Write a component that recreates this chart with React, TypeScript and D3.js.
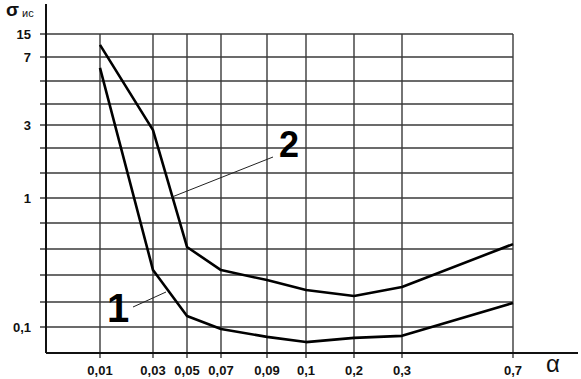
import React from 'react';
import * as d3 from 'd3';

// alpha values on the x axis
const alphas = [0.01, 0.03, 0.05, 0.07, 0.09, 0.1, 0.2, 0.3, 0.7];
const alphaLabels = ['0,01', '0,03', '0,05', '0,07', '0,09', '0,1', '0,2', '0,3', '0,7'];

// sigma_ic for curve 1 and curve 2
const curve1 = [6.4, 0.494, 0.179, 0.096, 0.081, 0.071, 0.079, 0.083, 0.273];
const curve2 = [11.2, 2.85, 0.654, 0.494, 0.426, 0.36, 0.32, 0.38, 0.674];

// labelled y levels
const yTickValues = [15, 7, 3, 1, 0.1];
const yTickLabels = ['15', '7', '3', '1', '0,1'];

const W = 581;
const H = 379;
const left = 46;
const bottom = 353;
const plotRight = 513;
const axisRight = 578;

// the hand-drawn grid rows are not evenly spaced
const rowPx = [34, 57, 81, 104, 125, 148, 173, 198, 223, 249, 275, 302, 327, 353];

const font = '"Liberation Sans", Arial, sans-serif';

const App: React.FC = () => {
  // the x axis of the original is drawn with uneven spacing
  const x = d3.scaleLinear()
    .domain(alphas)
    .range([100, 153, 187, 221, 267, 306, 354, 402, plotRight]);

  // nonlinear y axis: value -> grid row index -> pixel
  const row = d3.scaleLinear()
    .domain([0.05, 0.1, 1, 3, 7, 15])
    .range([13, 12, 7, 4, 1, 0]);
  const rowToPx = d3.scaleLinear().domain(d3.range(rowPx.length)).range(rowPx);
  const y = (v: number) => rowToPx(row(v));

  const line = d3.line<number>()
    .x((_, i) => x(alphas[i]))
    .y(d => y(d))
    .curve(d3.curveLinear);

  const top = rowPx[0];
  const grid = '#3a3a3a';

  return (
    <svg width={W} height={H} style={{ position: 'absolute', left: 0, top: 0, background: '#fff' }}>
      {/* horizontal grid */}
      {rowPx.slice(0, -1).map((py, i) => (
        <line key={'h' + i} x1={left - 6} x2={plotRight} y1={py} y2={py}
          stroke={grid} strokeWidth={1.4} />
      ))}
      {/* vertical grid */}
      {alphas.map(a => (
        <line key={'v' + a} x1={x(a)} x2={x(a)} y1={top} y2={bottom + 5} stroke={grid} strokeWidth={1.4} />
      ))}
      {/* axes */}
      <line x1={left} x2={left} y1={4} y2={bottom} stroke="#111" strokeWidth={2} />
      <line x1={left} x2={axisRight} y1={bottom} y2={bottom} stroke="#111" strokeWidth={2} />

      {/* y tick labels */}
      {yTickValues.map((v, i) => (
        <text key={'yt' + v} x={31} y={y(v) + 5} textAnchor="end" fontFamily={font}
          fontWeight="bold" fontSize={13} fill="#111">{yTickLabels[i]}</text>
      ))}
      {/* x tick labels */}
      {alphas.map((a, i) => (
        <text key={'xt' + a} x={x(a)} y={375} textAnchor="middle" fontFamily={font}
          fontWeight="bold" fontSize={13} fill="#111">{alphaLabels[i]}</text>
      ))}

      {/* axis titles */}
      <text x={6} y={16} fontFamily={font} fontWeight="bold" fontSize={19} fill="#111">σ</text>
      <text x={22} y={17} fontFamily={font} fontSize={11} fill="#111">ис</text>
      <text x={546} y={372} fontFamily={font} fontSize={24} fill="#111">α</text>

      {/* curves */}
      <path d={line(curve1) || ''} fill="none" stroke="#000" strokeWidth={2.6} strokeLinejoin="round" />
      <path d={line(curve2) || ''} fill="none" stroke="#000" strokeWidth={2.6} strokeLinejoin="round" />

      {/* curve labels with leader lines */}
      <line x1={133} y1={307} x2={166} y2={292} stroke="#222" strokeWidth={1} />
      <text x={107} y={322} fontFamily={font} fontWeight="bold" fontSize={40} fill="#000">1</text>
      <line x1={172} y1={197} x2={273} y2={157} stroke="#222" strokeWidth={1} />
      <text x={279} y={157} fontFamily={font} fontWeight="bold" fontSize={36} fill="#000">2</text>
    </svg>
  );
};

export default App;
